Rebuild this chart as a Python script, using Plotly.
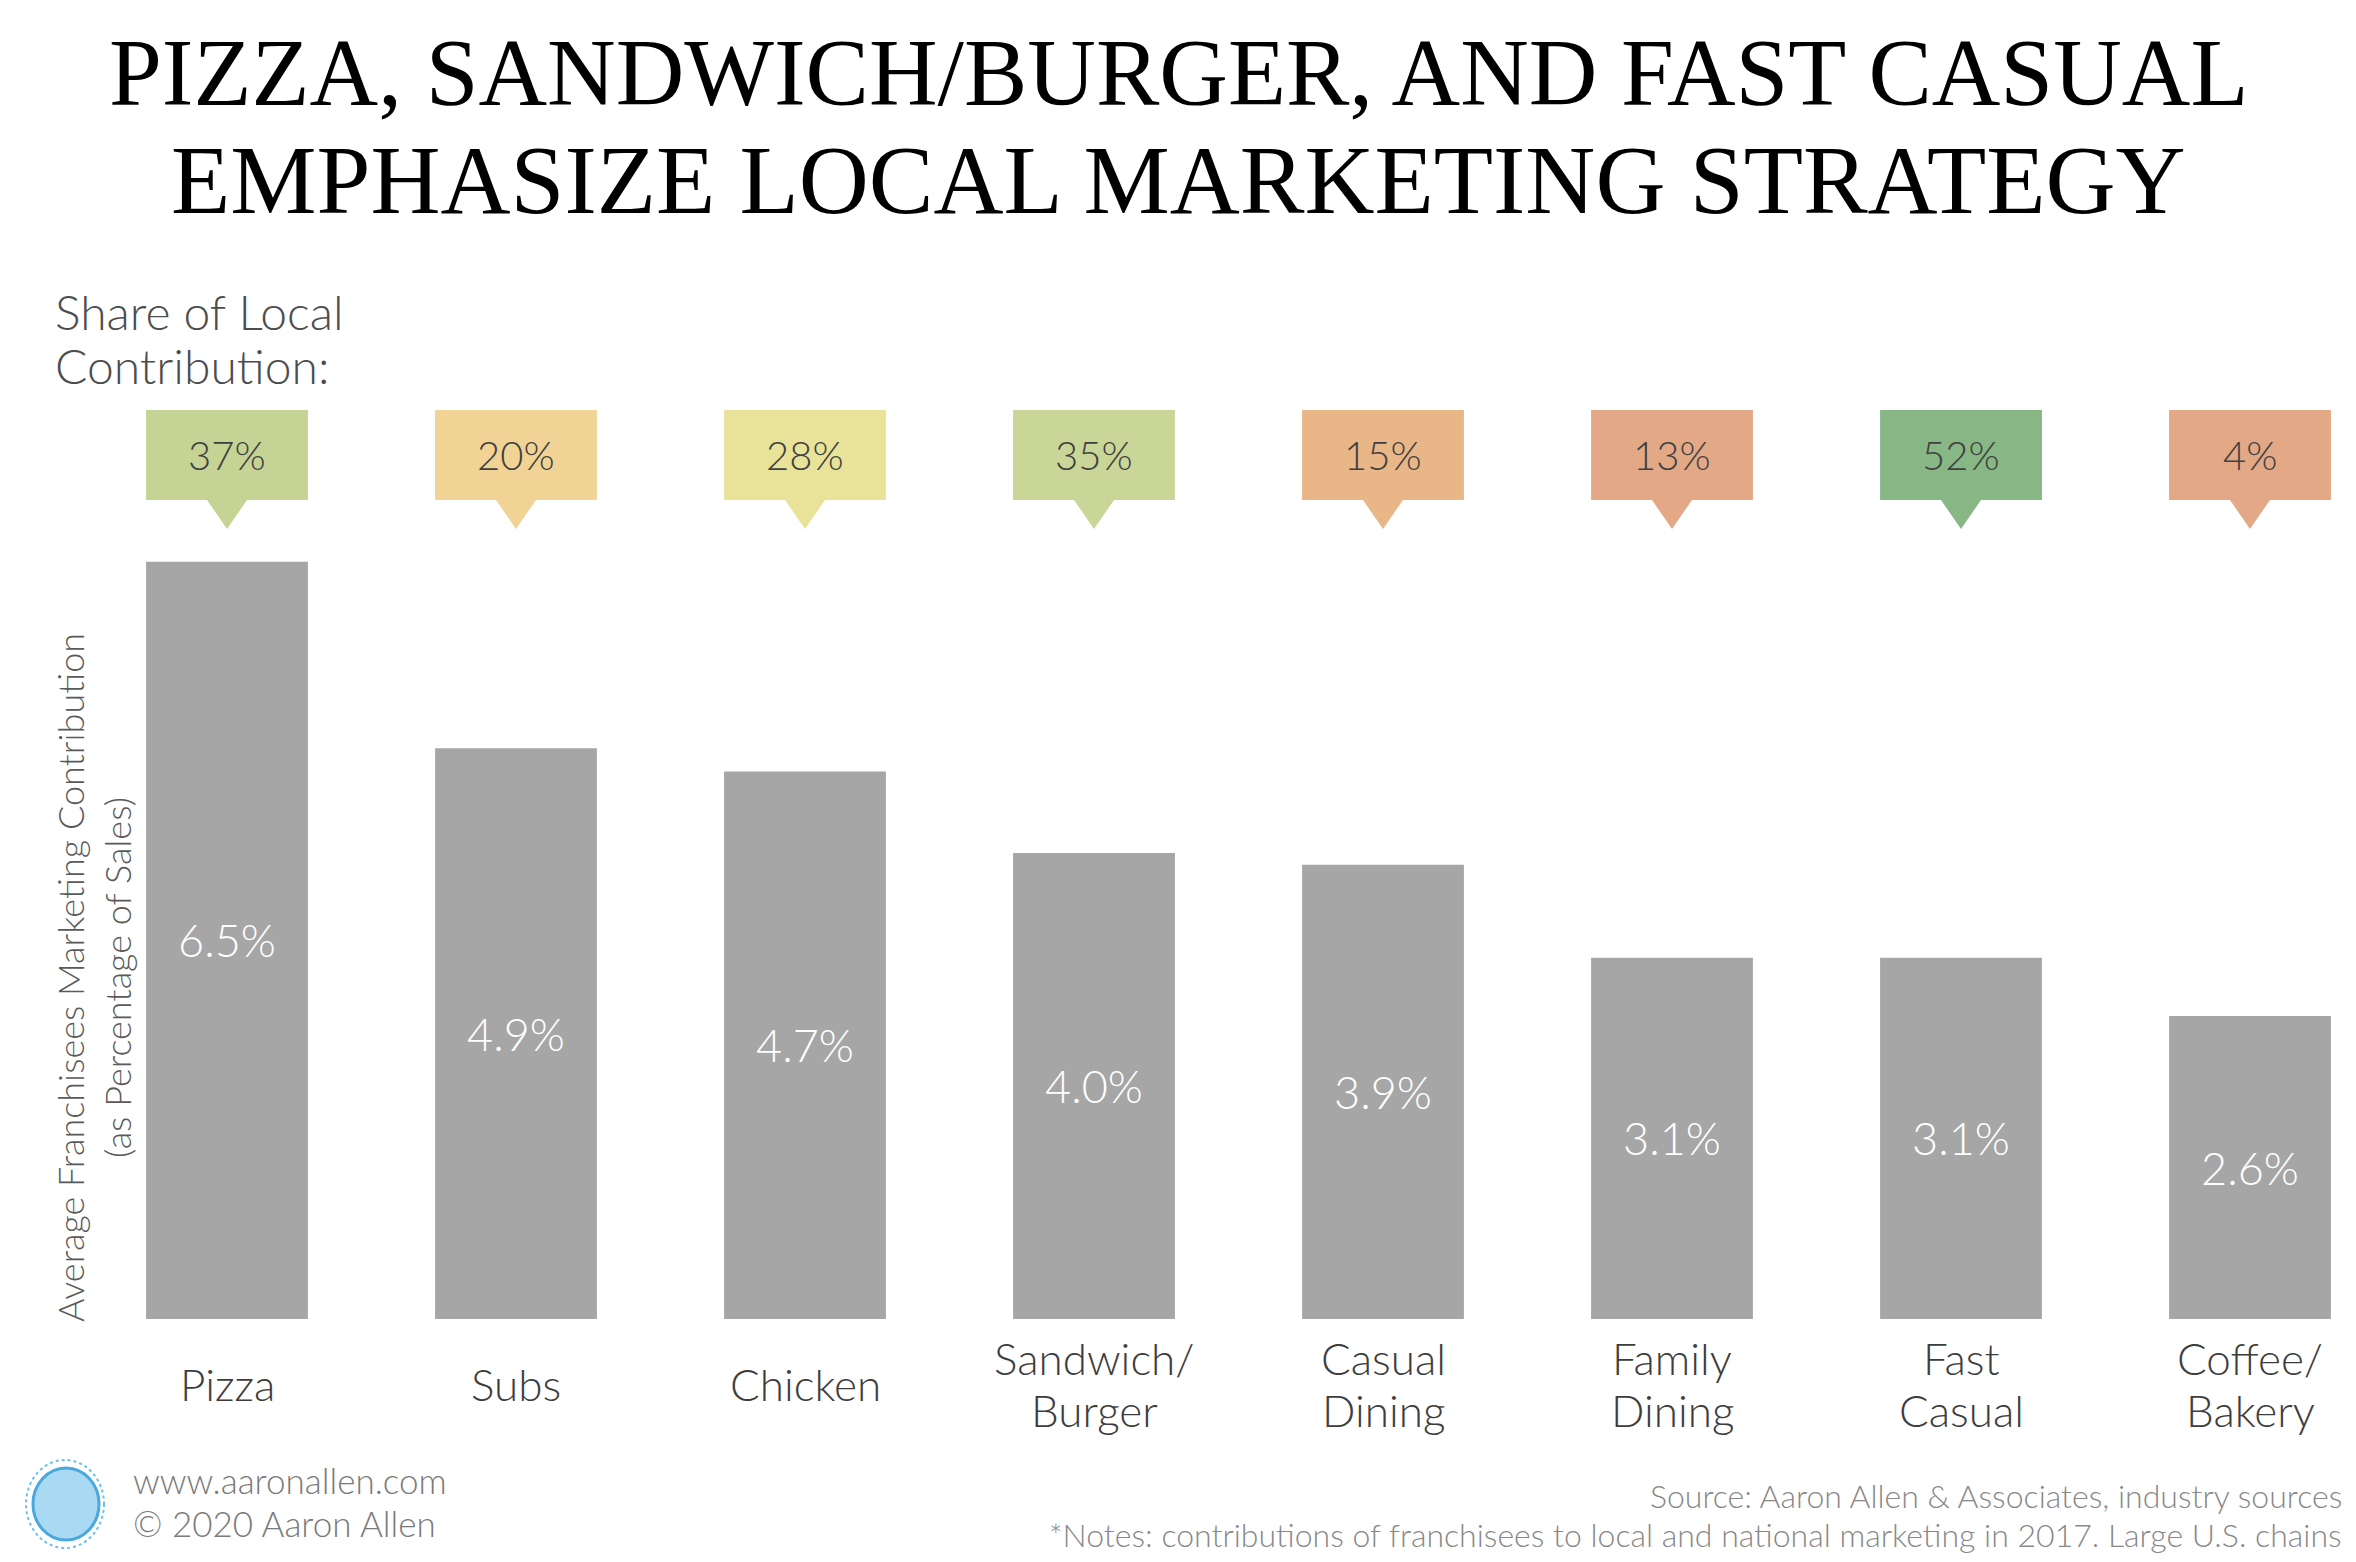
import plotly.graph_objects as go

categories = ["Pizza", "Subs", "Chicken", "Sandwich/<br>Burger", "Casual<br>Dining",
              "Family<br>Dining", "Fast<br>Casual", "Coffee/<br>Bakery"]
contribution = [6.5, 4.9, 4.7, 4.0, 3.9, 3.1, 3.1, 2.6]
local_share = [37, 20, 28, 35, 15, 13, 52, 4]
share_colors = ["#c5d394", "#f0d395", "#e9e39a", "#cad697", "#e9b688",
                "#e3a885", "#88b786", "#e3a885"]

W, H = 2356, 1562
ML, MR, MT, MB = 80, 0, 540, 243
PW = W - ML - MR
PH = H - MT - MB
PX_PER_CAT = 289.0
X0 = (ML - 227) / PX_PER_CAT
X1 = X0 + PW / PX_PER_CAT
YMAX = PH / 116.5


def px(x):
    return (x - ML) / PW


def py(y):
    return (H - MB - y) / PH


FONT = "Lato"
xs = list(range(len(categories)))

fig = go.Figure()
fig.add_trace(go.Bar(
    x=xs, y=contribution, width=0.56,
    marker=dict(color="#a6a6a6", line=dict(width=0)),
    texttemplate="%{y:.1f}%", textposition="inside", insidetextanchor="middle",
    textfont=dict(family=FONT, size=45, color="white", weight=300),
    hoverinfo="skip", showlegend=False,
))

shapes = []
annotations = []


def text_line(x, y, text, size, color, xanchor="center", xref="paper"):
    annotations.append(dict(x=x, y=y, xref=xref, yref="paper", text=text,
                            showarrow=False, xanchor=xanchor, yanchor="middle",
                            font=dict(family=FONT, size=size, color=color, weight=300)))


half = 0.28
dw = 20 / PX_PER_CAT
yt, yb, ytip = py(410), py(500), py(529)
for i, (v, c) in enumerate(zip(local_share, share_colors)):
    path = (f"M {i-half},{yt} L {i+half},{yt} L {i+half},{yb} L {i+dw},{yb} "
            f"L {i},{ytip} L {i-dw},{yb} L {i-half},{yb} Z")
    shapes.append(dict(type="path", path=path, xref="x", yref="paper",
                       fillcolor=c, line=dict(width=0), layer="above"))
    text_line(i, py(455), f"{v}%", 40, "#404040", xref="x")

for i, cat in enumerate(categories):
    parts = cat.split("<br>")
    if len(parts) == 1:
        text_line(i, py(1384), parts[0], 44, "#3d3d3d", xref="x")
    else:
        text_line(i, py(1358), parts[0], 44, "#3d3d3d", xref="x")
        text_line(i, py(1410), parts[1], 44, "#3d3d3d", xref="x")

# Title
annotations.append(dict(x=px(1178), y=py(73), xref="paper", yref="paper",
                        text="PIZZA, SANDWICH/BURGER, AND FAST CASUAL", showarrow=False,
                        xanchor="center", yanchor="middle",
                        font=dict(family="Liberation Serif", size=95, color="black")))
annotations.append(dict(x=px(1178), y=py(180), xref="paper", yref="paper",
                        text="EMPHASIZE LOCAL MARKETING STRATEGY", showarrow=False,
                        xanchor="center", yanchor="middle",
                        font=dict(family="Liberation Serif", size=97, color="black")))
# Share label
text_line(px(53), py(311), "Share of Local", 48, "#4d4d4d", xanchor="left")
text_line(px(53), py(366), "Contribution:", 48, "#4d4d4d", xanchor="left")

# Y-axis title
annotations.append(dict(x=px(93), y=py(978), xref="paper", yref="paper",
                        text="Average Franchisees Marketing Contribution<br>(as Percentage of Sales)",
                        showarrow=False, textangle=-90, xanchor="center", yanchor="middle",
                        align="center",
                        font=dict(family=FONT, size=36, color="#5a5a5a", weight=300)))
# Footer left
text_line(px(131), py(1480), "www.aaronallen.com", 35, "#7a7a7a", xanchor="left")
text_line(px(131), py(1523), "© 2020 Aaron Allen", 35, "#7a7a7a", xanchor="left")
# Footer right
text_line(px(2344), py(1495), "Source: Aaron Allen & Associates, industry sources",
          32, "#888888", xanchor="right")
text_line(px(2344), py(1534),
          "*Notes: contributions of franchisees to local and national marketing in 2017. Large U.S. chains",
          32, "#888888", xanchor="right")

# Simple globe logo
shapes.append(dict(type="circle", xref="paper", yref="paper",
                   x0=px(33), x1=px(99), y0=py(1540), y1=py(1468),
                   fillcolor="#a9d9f3", line=dict(color="#4aa8dc", width=3)))
shapes.append(dict(type="circle", xref="paper", yref="paper",
                   x0=px(26), x1=px(104), y0=py(1548), y1=py(1460),
                   fillcolor="rgba(0,0,0,0)", line=dict(color="#6cc0ea", width=2, dash="dot")))

fig.update_layout(
    width=W, height=H,
    margin=dict(l=ML, r=MR, t=MT, b=MB, pad=0),
    paper_bgcolor="white", plot_bgcolor="white",
    xaxis=dict(range=[X0, X1], showticklabels=False, showgrid=False, zeroline=False,
               showline=False, ticks=""),
    yaxis=dict(range=[0, YMAX], showticklabels=False, showgrid=False, zeroline=False,
               showline=False, ticks=""),
    shapes=shapes, annotations=annotations,
    bargap=0.44,
)

fig.write_html("out.html")
